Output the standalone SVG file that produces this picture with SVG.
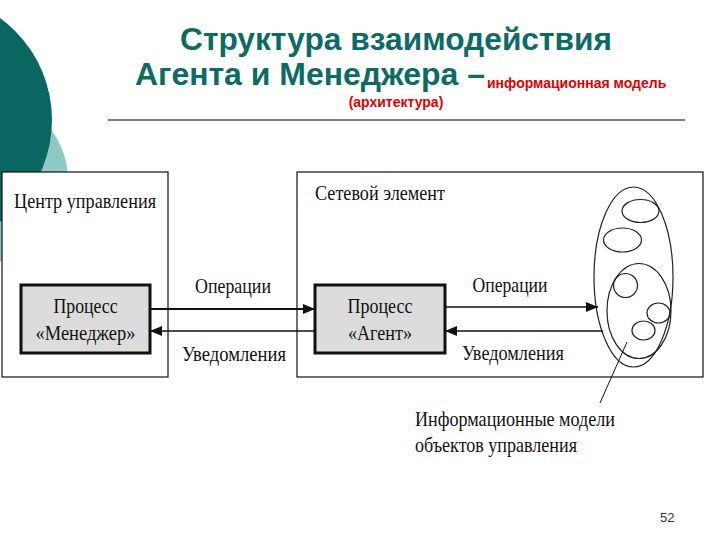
<svg xmlns="http://www.w3.org/2000/svg" width="720" height="540" viewBox="0 0 720 540">
<style>
.t{font-family:"Liberation Serif","Times New Roman",serif;font-size:21.5px;fill:#111}
.box{fill:#fff;stroke:#111;stroke-width:1.2}
.proc{fill:#dcdcdc;stroke:#111;stroke-width:3}
.e{fill:none;stroke:#222;stroke-width:1.2}
.ln{stroke:#111;fill:none}
.title{font-family:"Liberation Sans",Arial,sans-serif;font-weight:bold;fill:#0d6b66}
.red{font-family:"Liberation Sans",Arial,sans-serif;font-weight:bold;fill:#e00000;font-size:14px}
</style>
<defs>
<marker id="ah" markerWidth="12" markerHeight="10" refX="12" refY="5" orient="auto" markerUnits="userSpaceOnUse">
<path d="M0,0 L12,5 L0,10 Z" fill="#111"/>
</marker>
</defs>
<rect width="720" height="540" fill="#fff"/>
<g id="decor">
<circle cx="-15" cy="180" r="83" fill="#8ec9c4"/>
<circle cx="-74" cy="120" r="126" fill="#0a6661"/>
</g>
<g id="title">
<text class="title" x="396" y="50" font-size="32" text-anchor="middle" textLength="432" lengthAdjust="spacingAndGlyphs">Структура взаимодействия</text>
<text class="title" x="135" y="85" font-size="32" textLength="350" lengthAdjust="spacingAndGlyphs">Агента и Менеджера –</text>
<text class="red" x="487" y="88">информационная модель</text>
<text class="red" x="396" y="107" text-anchor="middle">(архитектура)</text>
<line x1="108" y1="120" x2="685" y2="120" stroke="#555" stroke-width="1.5"/>
</g>
<g id="center">
<rect class="box" x="2" y="172" width="166" height="205"/>
<text class="t" x="14" y="208" textLength="142" lengthAdjust="spacingAndGlyphs">Центр управления</text>
</g>
<g id="network-element">
<rect class="box" x="297" y="172" width="406" height="205"/>
<text class="t" x="315" y="200" textLength="130" lengthAdjust="spacingAndGlyphs">Сетевой элемент</text>
</g>
<g id="manager">
<rect class="proc" x="21" y="285" width="129" height="68"/>
<text class="t" x="85.5" y="313" text-anchor="middle" textLength="64" lengthAdjust="spacingAndGlyphs">Процесс</text>
<text class="t" x="85.5" y="340" text-anchor="middle" textLength="100" lengthAdjust="spacingAndGlyphs">«Менеджер»</text>
</g>
<g id="agent">
<rect class="proc" x="315" y="285" width="130" height="68"/>
<text class="t" x="380" y="313" text-anchor="middle" textLength="65" lengthAdjust="spacingAndGlyphs">Процесс</text>
<text class="t" x="380" y="340" text-anchor="middle" textLength="64" lengthAdjust="spacingAndGlyphs">«Агент»</text>
</g>
<g id="mib">
<ellipse class="e" cx="633.5" cy="277" rx="39.5" ry="90"/>
<ellipse class="e" cx="639" cy="311" rx="32" ry="47.5"/>
<ellipse class="e" cx="640.5" cy="211" rx="18.5" ry="11.5"/>
<ellipse class="e" cx="622.5" cy="240" rx="19" ry="12"/>
<ellipse class="e" cx="625.5" cy="285.5" rx="12" ry="12"/>
<ellipse class="e" cx="658.5" cy="313" rx="11.5" ry="10"/>
<ellipse class="e" cx="643.5" cy="330.5" rx="11.5" ry="9.5"/>
</g>
<g id="mib-label">
<text class="t" x="415" y="426" textLength="200" lengthAdjust="spacingAndGlyphs">Информационные модели</text>
<text class="t" x="415" y="452" textLength="162" lengthAdjust="spacingAndGlyphs">объектов управления</text>
</g>
<g id="connectors">
<line class="ln" x1="150" y1="309" x2="315" y2="309" stroke-width="2" marker-end="url(#ah)"/>
<line class="ln" x1="315" y1="331" x2="150" y2="331" stroke-width="1.5" marker-end="url(#ah)"/>
<line class="ln" x1="445" y1="307" x2="598" y2="307" stroke-width="1.5" marker-end="url(#ah)"/>
<line class="ln" x1="603" y1="331" x2="445" y2="331" stroke-width="1.5" marker-end="url(#ah)"/>
<line class="ln" x1="627" y1="342" x2="600" y2="403" stroke-width="1"/>
<text class="t" x="233" y="293" text-anchor="middle" textLength="76" lengthAdjust="spacingAndGlyphs">Операции</text>
<text class="t" x="234" y="361" text-anchor="middle" textLength="104" lengthAdjust="spacingAndGlyphs">Уведомления</text>
<text class="t" x="510" y="292" text-anchor="middle" textLength="75" lengthAdjust="spacingAndGlyphs">Операции</text>
<text class="t" x="513" y="360" text-anchor="middle" textLength="102" lengthAdjust="spacingAndGlyphs">Уведомления</text>
</g>
<text x="660" y="522" font-family="Liberation Sans,Arial,sans-serif" font-size="13" fill="#333">52</text>
</svg>
